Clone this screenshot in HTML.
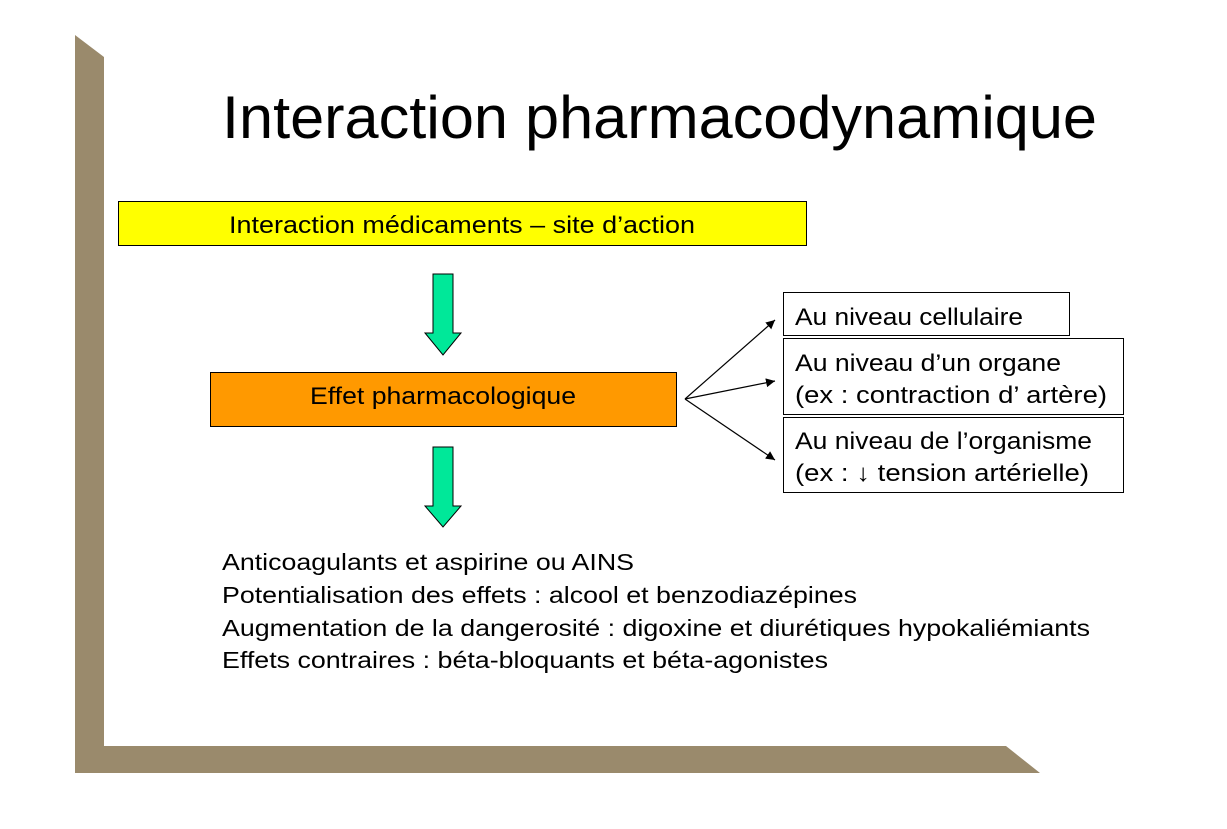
<!DOCTYPE html>
<html><head><meta charset="utf-8"><style>html,body{margin:0;padding:0;background:#fff;}svg{display:block}</style></head>
<body>
<svg width="1227" height="829" viewBox="0 0 1227 829" xmlns="http://www.w3.org/2000/svg" font-family="'Liberation Sans', sans-serif">
<defs>
<marker id="ah" viewBox="0 0 10 10" refX="10" refY="5" markerWidth="9" markerHeight="9" orient="auto" markerUnits="userSpaceOnUse"><path d="M0,0 L10,5 L0,10 z" fill="#000"/></marker>
</defs>
<polygon points="75,35 104,57 104,746 1006,746 1040,773 75,773" fill="#9a8a6c"/>
<text x="222" y="138" font-size="60" textLength="875" lengthAdjust="spacingAndGlyphs" fill="#000">Interaction pharmacodynamique</text>
<rect x="118.5" y="201.5" width="688" height="44" fill="#ffff00" stroke="#000" stroke-width="1"/>
<text x="229" y="233" font-size="24" textLength="466" lengthAdjust="spacingAndGlyphs">Interaction médicaments – site d’action</text>
<polygon points="433,274 453,274 453,333 461,333 443,355 425,333 433,333" fill="#00e899" stroke="#000" stroke-width="1"/>
<polygon points="433,447 453,447 453,506 461,506 443,527 425,506 433,506" fill="#00e899" stroke="#000" stroke-width="1"/>
<rect x="210.5" y="372.5" width="466" height="54" fill="#ff9900" stroke="#000" stroke-width="1"/>
<text x="310" y="404" font-size="24" textLength="266" lengthAdjust="spacingAndGlyphs">Effet pharmacologique</text>
<g stroke="#000" stroke-width="1.2" marker-end="url(#ah)">
<line x1="685" y1="399" x2="775" y2="320"/>
<line x1="685" y1="399" x2="775" y2="381"/>
<line x1="685" y1="399" x2="775" y2="460"/>
</g>
<g fill="#fff" stroke="#000" stroke-width="1">
<rect x="783.5" y="292.5" width="286" height="43"/>
<rect x="783.5" y="338.5" width="340" height="76"/>
<rect x="783.5" y="417.5" width="340" height="75"/>
</g>
<g font-size="24">
<text x="795" y="325" textLength="228" lengthAdjust="spacingAndGlyphs">Au niveau cellulaire</text>
<text x="795" y="371" textLength="266" lengthAdjust="spacingAndGlyphs">Au niveau d’un organe</text>
<text x="795" y="403" textLength="312" lengthAdjust="spacingAndGlyphs">(ex : contraction d’ artère)</text>
<text x="795" y="449" textLength="297" lengthAdjust="spacingAndGlyphs">Au niveau de l’organisme</text>
<text x="795" y="481" textLength="294" lengthAdjust="spacingAndGlyphs">(ex : ↓ tension artérielle)</text>
</g>
<g font-size="23">
<text x="222" y="570" textLength="412" lengthAdjust="spacingAndGlyphs">Anticoagulants et aspirine ou AINS</text>
<text x="222" y="603" textLength="635" lengthAdjust="spacingAndGlyphs">Potentialisation des effets : alcool et benzodiazépines</text>
<text x="222" y="636" textLength="868" lengthAdjust="spacingAndGlyphs">Augmentation de la dangerosité : digoxine et diurétiques hypokaliémiants</text>
<text x="222" y="668" textLength="606" lengthAdjust="spacingAndGlyphs">Effets contraires : béta-bloquants et béta-agonistes</text>
</g>
</svg>
</body></html>
